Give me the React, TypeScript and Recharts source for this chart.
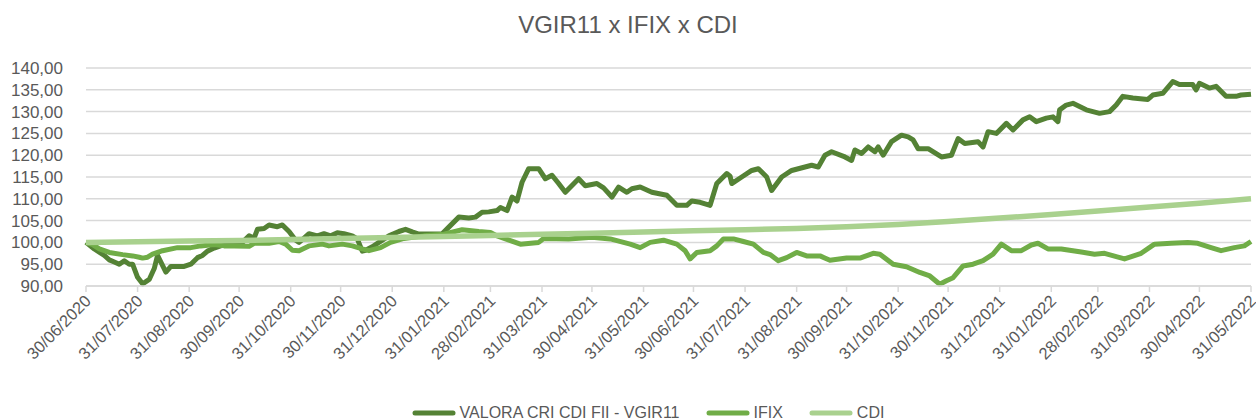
import React from "react";
import { CartesianGrid, Legend, Line, LineChart, XAxis, YAxis } from "recharts";

const TITLE = "VGIR11 x IFIX x CDI";

const monthEnds = [
  "2020-06-30", "2020-07-31", "2020-08-31", "2020-09-30", "2020-10-31", "2020-11-30",
  "2020-12-31", "2021-01-31", "2021-02-28", "2021-03-31", "2021-04-30", "2021-05-31",
  "2021-06-30", "2021-07-31", "2021-08-31", "2021-09-30", "2021-10-31", "2021-11-30",
  "2021-12-31", "2022-01-31", "2022-02-28", "2022-03-31", "2022-04-30", "2022-05-31",
];

const yTicks = [90, 95, 100, 105, 110, 115, 120, 125, 130, 135, 140];

const vgirDates = [
  "2020-06-30", "2020-07-05", "2020-07-11", "2020-07-14", "2020-07-17", "2020-07-20", "2020-07-23",
  "2020-07-26", "2020-07-28", "2020-07-31", "2020-08-03", "2020-08-07", "2020-08-10", "2020-08-12",
  "2020-08-14", "2020-08-17", "2020-08-20", "2020-08-28", "2020-09-01", "2020-09-05", "2020-09-08",
  "2020-09-11", "2020-09-15", "2020-09-21", "2020-09-27", "2020-10-02", "2020-10-06", "2020-10-09",
  "2020-10-11", "2020-10-15", "2020-10-18", "2020-10-23", "2020-10-26", "2020-10-30", "2020-11-03",
  "2020-11-05", "2020-11-08", "2020-11-11", "2020-11-16", "2020-11-20", "2020-11-24", "2020-11-28",
  "2020-12-02", "2020-12-07", "2020-12-10", "2020-12-13", "2020-12-15", "2020-12-19", "2020-12-23",
  "2020-12-29", "2021-01-04", "2021-01-08", "2021-01-12", "2021-01-16", "2021-01-25", "2021-01-30",
  "2021-02-03", "2021-02-09", "2021-02-15", "2021-02-19", "2021-02-23", "2021-02-27", "2021-03-04",
  "2021-03-06", "2021-03-10", "2021-03-13", "2021-03-16", "2021-03-19", "2021-03-23", "2021-03-29",
  "2021-04-02", "2021-04-06", "2021-04-10", "2021-04-14", "2021-04-22", "2021-04-26", "2021-05-03",
  "2021-05-07", "2021-05-12", "2021-05-16", "2021-05-21", "2021-05-24", "2021-05-29", "2021-06-05",
  "2021-06-14", "2021-06-20", "2021-06-26", "2021-06-29", "2021-07-04", "2021-07-10", "2021-07-14",
  "2021-07-20", "2021-07-22", "2021-07-23", "2021-07-29", "2021-08-04", "2021-08-08", "2021-08-13",
  "2021-08-16", "2021-08-22", "2021-08-28", "2021-09-01", "2021-09-09", "2021-09-13", "2021-09-17",
  "2021-09-21", "2021-09-29", "2021-10-03", "2021-10-05", "2021-10-09", "2021-10-13", "2021-10-17",
  "2021-10-19", "2021-10-22", "2021-10-27", "2021-11-02", "2021-11-06", "2021-11-09", "2021-11-12",
  "2021-11-18", "2021-11-26", "2021-12-02", "2021-12-06", "2021-12-10", "2021-12-18", "2021-12-21",
  "2021-12-24", "2021-12-29", "2022-01-04", "2022-01-08", "2022-01-14", "2022-01-18", "2022-01-22",
  "2022-01-28", "2022-02-01", "2022-02-04", "2022-02-05", "2022-02-09", "2022-02-13", "2022-02-21",
  "2022-03-01", "2022-03-07", "2022-03-11", "2022-03-15", "2022-03-21", "2022-03-30", "2022-04-02",
  "2022-04-08", "2022-04-14", "2022-04-18", "2022-04-26", "2022-04-28", "2022-04-30", "2022-05-06",
  "2022-05-10", "2022-05-16", "2022-05-22", "2022-05-25", "2022-05-31",
];
const vgirValues = [
  100, 98.5, 97, 96, 95.5, 95, 95.8,
  95, 95, 92, 90.5, 91.5, 94, 97,
  95.5, 93.2, 94.5, 94.5, 95, 96.5, 97,
  98, 98.7, 99.5, 99.3, 100, 101.5, 101,
  103, 103.2, 104, 103.6, 104, 102.5, 100.5,
  100, 101, 102, 101.5, 102, 101.5, 102.2,
  102, 101.5, 100.8, 98, 98.2, 99, 100,
  101.5, 102.5, 103, 102.4, 101.9, 101.9, 102,
  103.5, 105.8, 105.6, 105.8, 106.9, 107, 107.3,
  108, 107.3, 110.4, 109.5, 113.8, 116.9, 116.9,
  114.6, 115.4, 113.5, 111.5, 114.6, 113, 113.5,
  112.5, 110.4, 112.7, 111.5, 112.3, 112.7, 111.5,
  110.8, 108.5, 108.5, 109.5, 109.2, 108.5, 113.5,
  115.8, 115.2, 113.5, 115, 116.5, 116.9, 115,
  111.9, 115, 116.5, 116.9, 117.7, 117.3, 120,
  120.8, 119.6, 118.8, 121.2, 120.4, 121.9, 120.8,
  121.9, 120, 123.1, 124.6, 124.2, 123.5, 121.5,
  121.5, 119.6, 120, 123.8, 122.7, 123.1, 121.9,
  125.4, 125, 127.3, 125.8, 128.1, 128.8, 127.7,
  128.5, 128.8, 127.7, 130.4, 131.5, 131.9, 130.4,
  129.6, 130, 131.5, 133.5, 133.1, 132.8, 133.8,
  134.2, 136.9, 136.2, 136.2, 135, 136.5, 135.4,
  135.8, 133.5, 133.5, 133.8, 134,
];

const ifixDates = [
  "2020-06-30", "2020-07-04", "2020-07-08", "2020-07-14", "2020-07-22", "2020-07-28", "2020-08-01",
  "2020-08-03", "2020-08-06", "2020-08-09", "2020-08-15", "2020-08-24", "2020-09-01", "2020-09-07",
  "2020-09-15", "2020-09-21", "2020-09-27", "2020-10-06", "2020-10-09", "2020-10-18", "2020-10-24",
  "2020-10-28", "2020-11-01", "2020-11-05", "2020-11-11", "2020-11-19", "2020-11-23", "2020-12-01",
  "2020-12-07", "2020-12-13", "2020-12-17", "2020-12-24", "2020-12-30", "2021-01-07", "2021-01-19",
  "2021-01-31", "2021-02-11", "2021-02-21", "2021-02-28", "2021-03-04", "2021-03-12", "2021-03-18",
  "2021-03-29", "2021-04-01", "2021-04-16", "2021-04-30", "2021-05-11", "2021-05-23", "2021-05-29",
  "2021-06-04", "2021-06-12", "2021-06-20", "2021-06-25", "2021-06-28", "2021-07-02", "2021-07-10",
  "2021-07-14", "2021-07-18", "2021-07-24", "2021-07-30", "2021-08-05", "2021-08-11", "2021-08-15",
  "2021-08-20", "2021-08-25", "2021-08-31", "2021-09-06", "2021-09-14", "2021-09-20", "2021-09-30",
  "2021-10-08", "2021-10-16", "2021-10-20", "2021-10-28", "2021-11-05", "2021-11-13", "2021-11-19",
  "2021-11-25", "2021-11-29", "2021-12-03", "2021-12-09", "2021-12-15", "2021-12-21", "2021-12-27",
  "2022-01-01", "2022-01-07", "2022-01-13", "2022-01-19", "2022-01-23", "2022-01-29", "2022-02-06",
  "2022-02-18", "2022-02-26", "2022-03-04", "2022-03-16", "2022-03-26", "2022-04-03", "2022-04-13",
  "2022-04-23", "2022-04-29", "2022-05-07", "2022-05-13", "2022-05-21", "2022-05-27", "2022-05-31",
];
const ifixValues = [
  100, 99.5, 98.5, 97.7, 97.2, 96.9, 96.6,
  96.4, 96.6, 97.3, 98.1, 98.8, 98.8, 99.2,
  99.5, 99.2, 99.2, 99.1, 99.8, 99.8, 100.2,
  99.6, 98.2, 98.1, 99.2, 99.6, 99.2, 99.6,
  99.2, 98.5, 98.1, 98.8, 100, 100.9, 101.5,
  101.9, 102.9, 102.5, 102.3, 101.5, 100.4, 99.6,
  100, 100.9, 100.8, 101.2, 100.8, 99.6, 98.8,
  100, 100.5, 99.6, 98.1, 96.2, 97.7, 98.1,
  99.2, 100.8, 100.8, 100.2, 99.6, 97.7, 97.2,
  95.8, 96.5, 97.7, 96.9, 96.9, 95.9, 96.4,
  96.4, 97.5, 97.3, 95, 94.4, 93.1, 92.3,
  90.4, 91.2, 91.9, 94.6, 95, 95.8, 97.3,
  99.6, 98.1, 98.1, 99.4, 99.8, 98.5, 98.5,
  97.8, 97.3, 97.5, 96.2, 97.5, 99.6, 99.8,
  100, 99.8, 98.8, 98.1, 98.8, 99.2, 100.2,
];

const cdiDates = monthEnds;
const cdiValues = [
  100, 100.15, 100.3, 100.45, 100.65, 100.9,
  101.1, 101.35, 101.6, 101.85, 102.1, 102.4,
  102.65, 102.9, 103.2, 103.6, 104.1, 104.8,
  105.6, 106.4, 107.2, 108.1, 109.0, 110.0,
];

const DARK = "#548235";
const MID = "#70AD47";
const LIGHT = "#A9D18E";
const TEXT = "#595959";
const GRID = "#D9D9D9";
const FONT = "'Liberation Sans', Arial, sans-serif";

const toTime = (s: string) => Date.UTC(+s.slice(0, 4), +s.slice(5, 7) - 1, +s.slice(8, 10));
const fmtDate = (t: number) => {
  const d = new Date(t);
  const dd = String(d.getUTCDate()).padStart(2, "0");
  const mm = String(d.getUTCMonth() + 1).padStart(2, "0");
  return `${dd}/${mm}/${d.getUTCFullYear()}`;
};
const build = (dates: string[], values: number[]) => dates.map((d, i) => ({ t: toTime(d), v: values[i] }));

const vgirData = build(vgirDates, vgirValues);
const ifixData = build(ifixDates, ifixValues);
const cdiData = build(cdiDates, cdiValues);
const xTicks = monthEnds.map(toTime);

const series = [
  { name: "VALORA CRI CDI FII - VGIR11", color: DARK, data: vgirData, width: 5 },
  { name: "IFIX", color: MID, data: ifixData, width: 5 },
  { name: "CDI", color: LIGHT, data: cdiData, width: 5.5 },
];

function DateTick({ x, y, payload }: any) {
  const ax = x + 2;
  const ay = y + 4;
  return (
    <text
      x={ax}
      y={ay}
      transform={`rotate(-45 ${ax} ${ay})`}
      textAnchor="end"
      dy="0.35em"
      fill={TEXT}
      fontSize={16.5}
      fontFamily={FONT}
    >
      {fmtDate(payload.value)}
    </text>
  );
}

function LegendContent() {
  return (
    <div
      style={{
        display: "flex",
        justifyContent: "center",
        alignItems: "center",
        paddingLeft: 40,
        fontFamily: FONT,
        fontSize: 16,
        color: TEXT,
      }}
    >
      {series.map((s, i) => (
        <div key={s.name} style={{ display: "flex", alignItems: "center", marginRight: i < series.length - 1 ? 26 : 0 }}>
          <svg width={44} height={8} style={{ marginRight: 4 }}>
            <line x1={3} y1={4} x2={41} y2={4} stroke={s.color} strokeWidth={5} strokeLinecap="round" />
          </svg>
          <span>{s.name}</span>
        </div>
      ))}
    </div>
  );
}

export default function App() {
  return (
    <div style={{ position: "absolute", left: 0, top: 0, width: 1256, height: 419, background: "#fff" }}>
      <div
        style={{
          position: "absolute",
          top: 11,
          left: 0,
          width: 1256,
          textAlign: "center",
          fontFamily: FONT,
          fontSize: 24,
          color: TEXT,
        }}
      >
        {TITLE}
      </div>
      <LineChart width={1256} height={419} margin={{ top: 68, right: 5, bottom: 33, left: 0 }}>
        <CartesianGrid vertical={false} stroke={GRID} strokeWidth={1.5} />
        <XAxis
          dataKey="t"
          type="number"
          scale="time"
          domain={[xTicks[0], xTicks[xTicks.length - 1]]}
          ticks={xTicks}
          interval={0}
          tick={<DateTick />}
          axisLine={{ stroke: GRID, strokeWidth: 1.5 }}
          tickLine={{ stroke: GRID, strokeWidth: 1.5 }}
          tickSize={6}
          height={100}
          allowDuplicatedCategory={false}
        />
        <YAxis
          type="number"
          domain={[90, 140]}
          ticks={yTicks}
          interval={0}
          width={86}
          axisLine={false}
          tickLine={false}
          tickSize={0}
          tickMargin={23}
          tick={{ fill: TEXT, fontSize: 17, fontFamily: FONT }}
          tickFormatter={(v: number) => v.toFixed(2).replace(".", ",")}
        />
        {series.map((s) => (
          <Line
            key={s.name}
            data={s.data}
            dataKey="v"
            name={s.name}
            type="linear"
            stroke={s.color}
            strokeWidth={s.width}
            strokeLinejoin="round"
            dot={false}
            activeDot={false}
            isAnimationActive={false}
          />
        ))}
        <Legend
          layout="horizontal"
          verticalAlign="middle"
          align="center"
          content={<LegendContent />}
          wrapperStyle={{ top: 404, left: 0, width: 1256 }}
        />
      </LineChart>
    </div>
  );
}
